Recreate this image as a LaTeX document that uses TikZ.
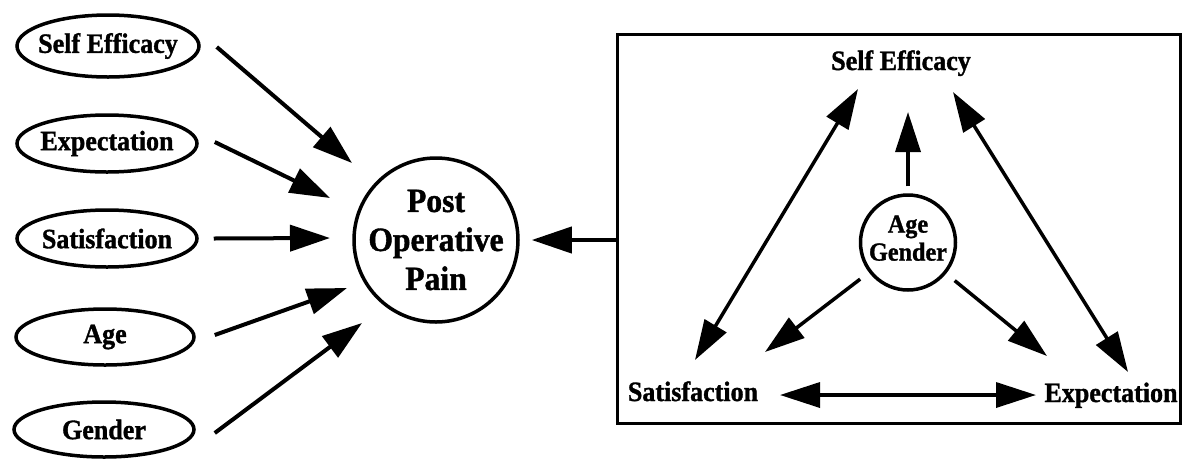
\documentclass[tikz,border=0pt]{standalone}
\usepackage{fontspec}
\setmainfont{Liberation Serif}[BoldFeatures={FakeBold=1.2,FakeStretch=0.93}]
\usetikzlibrary{arrows.meta,shapes.geometric,calc}
\tikzset{
  ell/.style={ellipse, draw, line width=3.5pt, inner sep=0pt, font=\fontsize{28}{32}\selectfont\bfseries},
  circ/.style={circle, draw, line width=3.5pt, inner sep=0pt},
  arrL/.style={line width=4pt, -{Triangle[length=40pt,width=26pt]}},
  arrR/.style={line width=3.5pt, -{Triangle[length=40pt,width=25pt]}},
  dblR/.style={line width=3.5pt, {Triangle[length=40pt,width=25pt]}-{Triangle[length=40pt,width=25pt]}},
  lbl/.style={font=\fontsize{28}{32}\selectfont\bfseries, inner sep=0pt, anchor=base},
}
\begin{document}
\begin{tikzpicture}[x=1pt,y=-1pt]
\useasboundingbox (0,0) rectangle (1184,459);
% left ellipses
\node[ell, minimum width=182pt, minimum height=62pt] (se)  at (108,46)    {\makebox[0pt]{Self Efficacy}};
\node[ell, minimum width=180pt, minimum height=57pt] (exp) at (107,143.5) {\makebox[0pt]{Expectation}};
\node[ell, minimum width=180pt, minimum height=57pt] (sat) at (107,238.5) {\makebox[0pt]{Satisfaction}};
\node[ell, minimum width=178pt, minimum height=56pt] (age) at (105,337)   {\makebox[0pt]{Age}};
\node[ell, minimum width=180pt, minimum height=55pt] (gen) at (104,429.5) {\makebox[0pt]{Gender}};
% central circle
\node[circ, minimum size=164pt,
  label={[align=center, inner sep=0pt, font=\fontsize{34}{39}\selectfont\bfseries]center:Post\\Operative\\Pain}] (pop) at (436,240) {};
% left arrows
\draw[arrL] ($(se.east)+(16,1)$)   -- ($(pop)+(-84,-77)$);
\draw[arrL] ($(exp.east)+(16,-1.5)$) -- ($(pop)+(-106,-42)$);
\draw[arrL] ($(sat.east)+(15,0)$)  -- ($(pop)+(-106,-2)$);
\draw[arrL] ($(age.east)+(19,-2)$) -- ($(pop)+(-89,48)$);
\draw[arrL] ($(gen.east)+(19,3.5)$) -- ($(pop)+(-74,83)$);
% right box
\node[draw, line width=3.5pt, minimum width=563pt, minimum height=389pt, inner sep=0pt] (box) at (899,229) {};
\draw[arrL, shorten >=12pt] (box.west |- pop) -- (pop);
% box contents
\node[lbl] (rse)  at (901,70)  {Self Efficacy};
\node[lbl] (rsat) at (693,401) {Satisfaction};
\node[lbl] (rexp) at (1111,402) {Expectation};
\node[circ, minimum size=95pt, align=center, font=\fontsize{26}{28}\selectfont\bfseries] (ag) at (908,242.5) {Age\\Gender\rule[-9pt]{0pt}{9pt}};
\draw[dblR] ($(rsat.base)+(2,-41)$) -- ($(rse.base)+(-43,19)$);
\draw[dblR] ($(rexp.base)+(17,-30)$) -- ($(rse.base)+(52,22)$);
\draw[dblR] ($(rsat.base)+(87,-6)$) -- ($(rexp.base)+(-75,-7)$);
\draw[arrR, shorten >=42pt] ([yshift=7pt]ag.north) -- (ag.north |- rse.base);
\draw[arrR, shorten <=11pt] (ag) -- ($(rsat.base)+(72,-49)$);
\draw[arrR, shorten <=11pt] (ag) -- ($(rexp.base)+(-64,-46)$);
\end{tikzpicture}
\end{document}
